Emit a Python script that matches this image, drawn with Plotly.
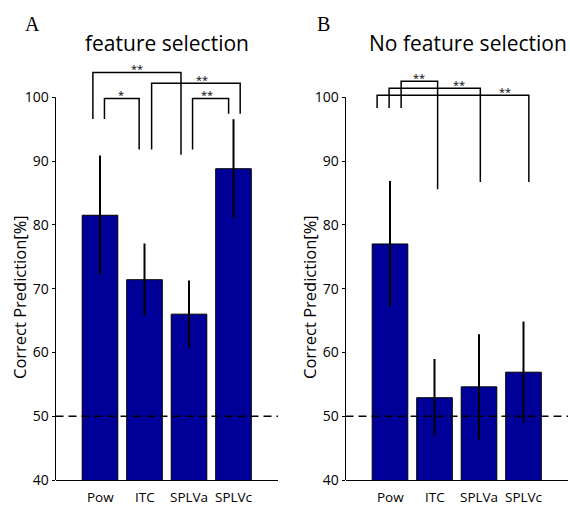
import plotly.graph_objects as go

# ---------------- data ----------------
categories = ["Pow", "ITC", "SPLVa", "SPLVc"]
positions = [1, 2, 3, 4]

fs_values = [81.5, 71.4, 66.0, 88.8]
fs_errors = [9.2, 5.5, 5.1, 7.6]

nofs_values = [77.0, 52.9, 54.6, 56.9]
nofs_errors = [9.7, 5.9, 8.1, 7.8]

chance_level = 50
y_ticks = [40, 50, 60, 70, 80, 90, 100]

# significance brackets: x_left, x_right, y_top, y_left_end, y_right_end, label, label_x
fs_brackets = [
    (0.84, 2.82, 103.9, 96.6, 91.0, "**", 1.83),
    (1.10, 1.88, 99.8, 96.6, 91.8, "*", 1.47),
    (2.16, 4.15, 102.2, 91.8, 97.4, "**", 3.30),
    (3.08, 3.89, 99.8, 91.8, 97.4, "**", 3.40),
]
nofs_brackets = [
    (1.25, 2.07, 102.5, 98.3, 85.6, "**", 1.66),
    (0.98, 3.03, 101.4, 98.3, 86.7, "**", 2.55),
    (0.71, 4.12, 100.3, 98.3, 86.7, "**", 3.58),
]

# ---------------- layout constants ----------------
W, H = 570, 505
M_T, M_B = 59, 25
Y_RANGE = [40, 106]
X_RANGE = [0, 5]
DOM_A = [55.5 / W, 278 / W]
DOM_B = [345.5 / W, 568 / W]
BAR_COLOR = "#000099"
SANS = "Open Sans, Noto Sans, DejaVu Sans, sans-serif"
SERIF = "Liberation Serif, Times New Roman, serif"
PLOT_H = H - M_T - M_B


def py(pix):
    """pixel row -> paper y"""
    return (H - M_B - pix) / PLOT_H


def px(pix):
    return pix / W


fig = go.Figure()


def add_panel(values, errors, brackets, xref, yref):
    fig.add_trace(go.Bar(
        x=positions, y=values, width=0.8,
        marker=dict(color=BAR_COLOR, line=dict(color="black", width=1)),
        error_y=dict(type="data", array=errors, color="black", thickness=2, width=1),
        xaxis=xref, yaxis=yref, showlegend=False, hoverinfo="skip",
    ))
    fig.add_trace(go.Scatter(
        x=X_RANGE, y=[chance_level, chance_level], mode="lines",
        line=dict(color="black", width=1.6, dash="8px,5px"),
        xaxis=xref, yaxis=yref, showlegend=False, hoverinfo="skip",
    ))
    for (x1, x2, yt, y1, y2, lab, lx) in brackets:
        fig.add_trace(go.Scatter(
            x=[x1, x1, x2, x2], y=[y1, yt, yt, y2], mode="lines",
            line=dict(color="black", width=1.5),
            xaxis=xref, yaxis=yref, showlegend=False, hoverinfo="skip",
        ))
        fig.add_annotation(x=lx, y=yt, xref=xref, yref=yref, text=lab,
                           showarrow=False, yanchor="middle", yshift=4,
                           font=dict(size=11, color="black", family=SANS))
    for cx, cat in zip(positions, categories):
        fig.add_annotation(x=cx, y=py(496.5), xref=xref, yref="paper", text=cat,
                           showarrow=False, yanchor="middle", borderpad=0,
                           font=dict(size=13.5, color="black", family=SANS))


add_panel(fs_values, fs_errors, fs_brackets, "x", "y")
add_panel(nofs_values, nofs_errors, nofs_brackets, "x2", "y2")

xaxis_common = dict(range=X_RANGE, showticklabels=False,
                    showline=True, linecolor="black", linewidth=1, ticks="",
                    showgrid=False, zeroline=False, fixedrange=True)
yaxis_common = dict(range=Y_RANGE, tickmode="array", tickvals=y_ticks,
                    showline=False, ticks="outside", ticklen=3, tickcolor="black",
                    showgrid=False, zeroline=False, fixedrange=True,
                    tickfont=dict(size=14, color="black", family=SANS))

fig.update_layout(
    width=W, height=H,
    margin=dict(l=0, r=0, t=M_T, b=M_B),
    plot_bgcolor="white", paper_bgcolor="white",
    xaxis=dict(domain=DOM_A, anchor="y", **xaxis_common),
    yaxis=dict(domain=[0, 1], anchor="x", **yaxis_common),
    xaxis2=dict(domain=DOM_B, anchor="y2", **xaxis_common),
    yaxis2=dict(domain=[0, 1], anchor="x2", **yaxis_common),
    bargap=0.2,
)

# y axis lines only from 40 to 100
y_top_paper = (y_ticks[-1] - Y_RANGE[0]) / (Y_RANGE[1] - Y_RANGE[0])
for dom in (DOM_A, DOM_B):
    fig.add_shape(type="line", xref="paper", yref="paper",
                  x0=dom[0], x1=dom[0], y0=0, y1=y_top_paper,
                  line=dict(color="black", width=1))

# titles, panel letters, y titles
texts = [
    ("feature selection", 167, 43, 21, SANS, 0),
    ("No feature selection", 468, 43, 21, SANS, 0),
    ("A", 32, 24, 20, SERIF, 0),
    ("B", 323, 24, 20, SERIF, 0),
    ("Correct Prediction[%]", 19.5, 297.5, 16.5, SANS, -90),
    ("Correct Prediction[%]", 309.5, 297.5, 16.5, SANS, -90),
]
for t, xx, yy, sz, fam, ang in texts:
    fig.add_annotation(text=t, x=px(xx), y=py(yy), xref="paper", yref="paper",
                       xanchor="center", yanchor="middle", showarrow=False,
                       textangle=ang, font=dict(size=sz, color="black", family=fam))

fig.write_html("out.html",
               config={"displayModeBar": False, "staticPlot": True},
               post_script="document.body.style.margin='0';document.body.style.padding='0';")
